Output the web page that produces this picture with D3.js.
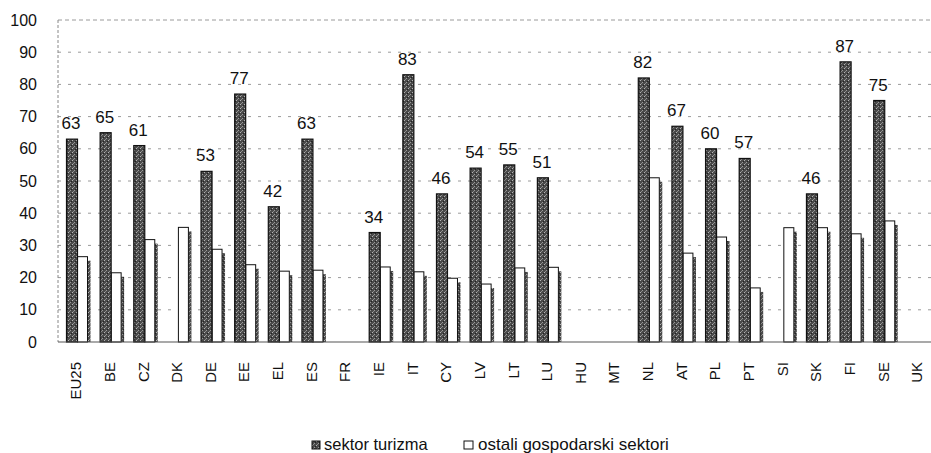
<!DOCTYPE html>
<html>
<head>
<meta charset="utf-8">
<script src="https://cdn.jsdelivr.net/npm/d3@7"></script>
<style>
    body { margin: 0; background: #fff; }
    text { font-family: "Liberation Sans", Arial, sans-serif; fill: #111; }
</style>
</head>
<body>
<svg id="chart" width="931" height="453"></svg>
<script>
const countries = ["EU25", "BE", "CZ", "DK", "DE", "EE", "EL", "ES", "FR", "IE", "IT", "CY", "LV",
    "LT", "LU", "HU", "MT", "NL", "AT", "PL", "PT", "SI", "SK", "FI", "SE", "UK"];
// null = no data
const tourism = [63, 65, 61, null, 53, 77, 42, 63, null, 34, 83, 46, 54,
    55, 51, null, null, 82, 67, 60, 57, null, 46, 87, 75, null];
const otherSectors = [26.5, 21.5, 31.8, 35.6, 28.8, 24, 22, 22.3, null, 23.3, 21.8, 19.8, 18,
    23, 23.2, null, null, 51, 27.6, 32.6, 16.8, 35.5, 35.5, 33.6, 37.6, null];
const yTicks = [0, 10, 20, 30, 40, 50, 60, 70, 80, 90, 100];
const seriesNames = ["sektor turizma", "ostali gospodarski sektori"];

const svg = d3.select("#chart");
const margin = { left: 58, right: 0, top: 20, bottom: 111 };
const width = 931, height = 453;

// stipple texture for the dark bars
const defs = svg.append("defs");
const pat = defs.append("pattern")
    .attr("id", "stipple")
    .attr("width", 4).attr("height", 4)
    .attr("patternUnits", "userSpaceOnUse");
pat.append("rect").attr("width", 4).attr("height", 4).attr("fill", "#4a4a4a");
pat.append("rect").attr("x", 0).attr("y", 0).attr("width", 1).attr("height", 1).attr("fill", "#b5b5b5");
pat.append("rect").attr("x", 2).attr("y", 2).attr("width", 1).attr("height", 1).attr("fill", "#9a9a9a");
pat.append("rect").attr("x", 3).attr("y", 1).attr("width", 1).attr("height", 1).attr("fill", "#222");
pat.append("rect").attr("x", 1).attr("y", 3).attr("width", 1).attr("height", 1).attr("fill", "#8a8a8a");

const x = d3.scaleBand()
    .domain(countries)
    .range([margin.left, 932.5])
    .paddingInner(0)
    .paddingOuter(0);

const y = d3.scaleLinear()
    .domain([0, 100])
    .range([342, margin.top]);

const step = x.step();
const darkOffset = 8.5, darkW = 11, whiteW = 10, shadowW = 3;

// grid
const grid = svg.append("g");
grid.selectAll("line")
    .data(yTicks.filter(d => d > 0))
    .enter()
    .append("line")
    .attr("x1", margin.left)
    .attr("x2", width)
    .attr("y1", d => y(d))
    .attr("y2", d => y(d))
    .attr("stroke", "#9a9a9a")
    .attr("stroke-width", 1)
    .attr("stroke-dasharray", d => d === 100 ? "4,3" : "3,7");

// left dashed frame
svg.append("line")
    .attr("x1", margin.left).attr("x2", margin.left)
    .attr("y1", y(100)).attr("y2", y(0))
    .attr("stroke", "#888")
    .attr("stroke-dasharray", "3,2");

// y axis labels
const yAxis = d3.axisLeft(y).tickValues(yTicks).tickSize(0).tickPadding(21);
const yAxisGroup = svg.append("g")
    .attr("transform", `translate(${margin.left}, 0)`)
    .call(yAxis);
yAxisGroup.select(".domain").remove();
yAxisGroup.selectAll("text")
    .attr("font-size", 16)
    .attr("font-family", "Liberation Sans, Arial, sans-serif")
    .attr("fill", "#111");

const groups = svg.append("g")
    .selectAll("g")
    .data(countries)
    .enter()
    .append("g");

// white bars with their dark shadow
groups.filter((d, i) => otherSectors[i] !== null)
    .each(function (d) {
        const i = countries.indexOf(d);
        const g = d3.select(this);
        const x0 = x(d) + darkOffset + darkW;
        g.append("rect")
            .attr("x", x0 + whiteW)
            .attr("y", y(otherSectors[i]) + 4)
            .attr("width", shadowW)
            .attr("height", y(0) - y(otherSectors[i]) - 4)
            .attr("fill", "url(#stipple)");
        g.append("rect")
            .attr("x", x0)
            .attr("y", y(otherSectors[i]))
            .attr("width", whiteW)
            .attr("height", y(0) - y(otherSectors[i]))
            .attr("fill", "#fff")
            .attr("stroke", "#111")
            .attr("stroke-width", 1);
    });

// dark bars and labels
groups.filter((d, i) => tourism[i] !== null)
    .each(function (d) {
        const i = countries.indexOf(d);
        const g = d3.select(this);
        const x0 = x(d) + darkOffset;
        g.append("rect")
            .attr("x", x0)
            .attr("y", y(tourism[i]))
            .attr("width", darkW)
            .attr("height", y(0) - y(tourism[i]))
            .attr("fill", "url(#stipple)")
            .attr("stroke", "#111")
            .attr("stroke-width", 1.2);
        g.append("text")
            .attr("x", x0 + darkW / 2 - 1)
            .attr("y", y(tourism[i]) - 10)
            .attr("text-anchor", "middle")
            .attr("font-size", 17)
            .text(tourism[i]);
    });

// baseline
svg.append("line")
    .attr("x1", margin.left).attr("x2", width)
    .attr("y1", y(0)).attr("y2", y(0))
    .attr("stroke", "#555")
    .attr("stroke-width", 1.2);

// x labels, rotated
svg.append("g")
    .selectAll("text")
    .data(countries)
    .enter()
    .append("text")
    .attr("transform", d => `translate(${x(d) + step / 2 + 6.5}, 362) rotate(-90)`)
    .attr("text-anchor", "end")
    .attr("font-size", 15)
    .text(d => d);

// legend
const legend = svg.append("g").attr("transform", "translate(312, 441)");
legend.append("rect")
    .attr("x", 0).attr("y", 0).attr("width", 8).attr("height", 8)
    .attr("fill", "url(#stipple)").attr("stroke", "#111");
legend.append("text")
    .attr("x", 12).attr("y", 9)
    .attr("font-size", 16.5)
    .text(seriesNames[0]);
legend.append("rect")
    .attr("x", 152).attr("y", 0).attr("width", 9).attr("height", 8)
    .attr("fill", "#fff").attr("stroke", "#111");
legend.append("text")
    .attr("x", 166).attr("y", 9)
    .attr("font-size", 17)
    .text(seriesNames[1]);
</script>
</body>
</html>
